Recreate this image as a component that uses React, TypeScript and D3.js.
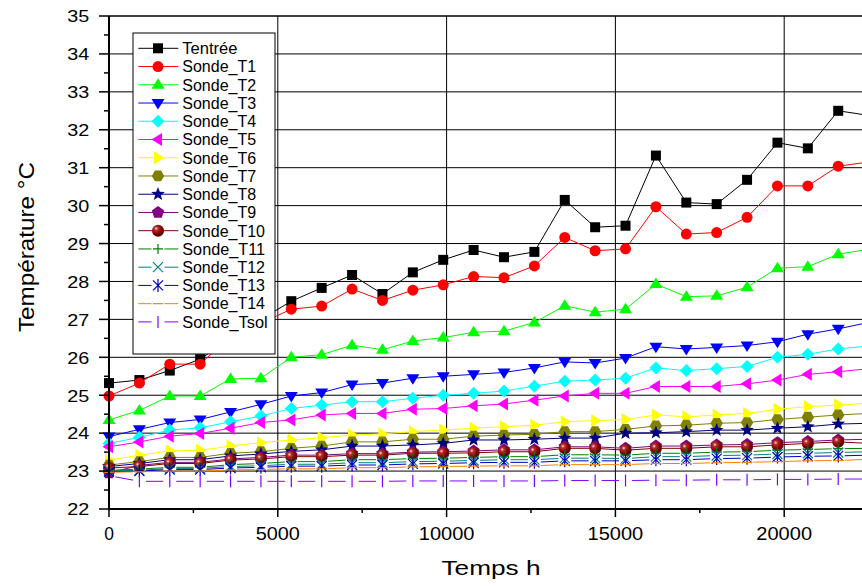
import React from 'react';
import * as d3 from 'd3';

// Time (h) of each measurement
const hours = [0, 900, 1800, 2700, 3600, 4500, 5400, 6300, 7200, 8100, 9000, 9900, 10800, 11700, 12600, 13500, 14400, 15300, 16200, 17100, 18000, 18900, 19800, 20700, 21600, 22500];

const tentree = [25.32, 25.4, 25.65, 25.95, 26.5, 27.0, 27.48, 27.83, 28.17, 27.67, 28.24, 28.57, 28.83, 28.64, 28.78, 30.15, 29.43, 29.47, 31.32, 30.08, 30.04, 30.68, 31.66, 31.51, 32.5, 32.38];
const sondeT1 = [24.98, 25.32, 25.82, 25.82, 26.55, 26.9, 27.27, 27.35, 27.8, 27.5, 27.77, 27.91, 28.13, 28.1, 28.41, 29.16, 28.81, 28.86, 29.97, 29.25, 29.29, 29.69, 30.52, 30.52, 31.04, 31.15];
const sondeT2 = [24.35, 24.6, 24.98, 24.98, 25.43, 25.45, 26.0, 26.07, 26.32, 26.2, 26.43, 26.52, 26.66, 26.69, 26.92, 27.36, 27.19, 27.27, 27.93, 27.6, 27.62, 27.85, 28.35, 28.39, 28.72, 28.85];
const sondeT3 = [23.91, 24.1, 24.28, 24.36, 24.56, 24.76, 24.98, 25.07, 25.28, 25.32, 25.45, 25.5, 25.55, 25.6, 25.72, 25.88, 25.85, 25.98, 26.28, 26.22, 26.26, 26.31, 26.41, 26.61, 26.75, 26.92];
const sondeT4 = [23.73, 23.89, 24.08, 24.14, 24.3, 24.45, 24.65, 24.74, 24.83, 24.83, 24.92, 25.0, 25.05, 25.11, 25.24, 25.37, 25.4, 25.45, 25.72, 25.65, 25.7, 25.76, 26.0, 26.08, 26.22, 26.3];
const sondeT5 = [23.64, 23.77, 23.92, 23.99, 24.13, 24.28, 24.35, 24.48, 24.52, 24.52, 24.63, 24.65, 24.72, 24.77, 24.87, 24.98, 25.05, 25.05, 25.23, 25.23, 25.23, 25.3, 25.4, 25.55, 25.62, 25.7];
const sondeT6 = [23.29, 23.42, 23.53, 23.55, 23.66, 23.75, 23.82, 23.88, 23.95, 23.98, 24.04, 24.08, 24.13, 24.17, 24.21, 24.3, 24.33, 24.36, 24.48, 24.43, 24.48, 24.52, 24.63, 24.7, 24.74, 24.79];
const sondeT7 = [23.16, 23.25, 23.36, 23.36, 23.47, 23.51, 23.6, 23.66, 23.77, 23.77, 23.84, 23.84, 23.92, 23.95, 23.97, 24.04, 24.04, 24.1, 24.19, 24.21, 24.26, 24.28, 24.36, 24.42, 24.48, 24.52];
const sondeT8 = [23.12, 23.2, 23.3, 23.3, 23.4, 23.45, 23.52, 23.56, 23.66, 23.66, 23.69, 23.73, 23.82, 23.82, 23.84, 23.87, 23.87, 24.0, 24.01, 24.04, 24.08, 24.08, 24.13, 24.17, 24.24, 24.26];
const sondeT9 = [22.95, 23.15, 23.23, 23.23, 23.32, 23.36, 23.42, 23.42, 23.46, 23.46, 23.5, 23.51, 23.53, 23.56, 23.56, 23.64, 23.64, 23.6, 23.66, 23.66, 23.69, 23.7, 23.75, 23.78, 23.82, 23.84];
const sondeT10 = [23.08, 23.12, 23.2, 23.2, 23.29, 23.32, 23.38, 23.38, 23.42, 23.42, 23.47, 23.47, 23.48, 23.51, 23.51, 23.6, 23.6, 23.55, 23.6, 23.6, 23.64, 23.64, 23.69, 23.73, 23.77, 23.73];
const sondeT11 = [23.02, 23.05, 23.1, 23.1, 23.17, 23.2, 23.25, 23.25, 23.3, 23.3, 23.33, 23.34, 23.36, 23.38, 23.38, 23.43, 23.43, 23.42, 23.47, 23.47, 23.5, 23.51, 23.55, 23.57, 23.59, 23.6];
const sondeT12 = [23.0, 23.02, 23.07, 23.07, 23.12, 23.14, 23.18, 23.18, 23.22, 23.22, 23.25, 23.26, 23.28, 23.3, 23.3, 23.34, 23.34, 23.33, 23.38, 23.38, 23.41, 23.42, 23.45, 23.47, 23.49, 23.51];
const sondeT13 = [22.98, 23.0, 23.04, 23.04, 23.08, 23.1, 23.13, 23.13, 23.16, 23.16, 23.19, 23.2, 23.22, 23.23, 23.23, 23.27, 23.27, 23.27, 23.3, 23.3, 23.33, 23.34, 23.37, 23.39, 23.4, 23.42];
const sondeT14 = [22.97, 22.98, 23.0, 23.0, 23.03, 23.04, 23.06, 23.06, 23.09, 23.09, 23.11, 23.12, 23.13, 23.14, 23.14, 23.17, 23.17, 23.17, 23.2, 23.2, 23.22, 23.23, 23.25, 23.27, 23.28, 23.31];
const sondeTsol = [22.88, 22.73, 22.73, 22.73, 22.73, 22.73, 22.73, 22.73, 22.73, 22.73, 22.74, 22.74, 22.74, 22.74, 22.74, 22.75, 22.75, 22.75, 22.76, 22.76, 22.77, 22.77, 22.78, 22.78, 22.79, 22.79];

const seriesNames = ['Tentrée', 'Sonde_T1', 'Sonde_T2', 'Sonde_T3', 'Sonde_T4', 'Sonde_T5', 'Sonde_T6', 'Sonde_T7', 'Sonde_T8', 'Sonde_T9', 'Sonde_T10', 'Sonde_T11', 'Sonde_T12', 'Sonde_T13', 'Sonde_T14', 'Sonde_Tsol'];
const seriesValues = [tentree, sondeT1, sondeT2, sondeT3, sondeT4, sondeT5, sondeT6, sondeT7, sondeT8, sondeT9, sondeT10, sondeT11, sondeT12, sondeT13, sondeT14, sondeTsol];
const seriesColors = ['#000000', '#ff0000', '#00ff00', '#0000ff', '#00ffff', '#ff00ff', '#ffff00', '#808000', '#000080', '#800080', '#800000', '#008000', '#008080', '#0000c0', '#ff8000', '#8000ff'];
const seriesMarkers = ['square', 'circle', 'triUp', 'triDown', 'diamond', 'triLeft', 'triRight', 'hexagon', 'star', 'pentagon', 'sphere', 'plus', 'cross', 'asterisk', 'dash', 'bar'];

const yTicks = [22, 23, 24, 25, 26, 27, 28, 29, 30, 31, 32, 33, 34, 35];
const xTicks = [0, 5000, 10000, 15000, 20000];
const yTitle = 'Température °C';
const xTitle = 'Temps h';

const W = 862;
const H = 586;
const x = d3.scaleLinear().domain([0, 25000]).range([109, 109 + 168.8 * 5]);
const y = d3.scaleLinear().domain([22, 35]).range([509, 16]);

const FONT = "Arial, 'Liberation Sans', Helvetica, sans-serif";
// Arial advance widths (per 1000 em) used to size text consistently
const adv: Record<string, number> = { S: 667, o: 556, n: 556, d: 556, e: 556, _: 556, T: 611, s: 500, l: 222, r: 333, t: 278, 'é': 556 };
function textWidth(s: string, size: number) {
  let w = 0;
  for (const ch of s) w += adv[ch] !== undefined ? adv[ch] : 556;
  return (w * size) / 1000;
}

const strokeMarkers = new Set(['plus', 'cross', 'asterisk', 'dash', 'bar']);

function polygon(n: number, r: number, rot: number) {
  const pts = d3.range(n).map((i) => {
    const a = rot + (i * 2 * Math.PI) / n;
    return [r * Math.cos(a), r * Math.sin(a)];
  });
  return 'M' + pts.map((p) => p[0].toFixed(2) + ',' + p[1].toFixed(2)).join('L') + 'Z';
}

function starPath(ro: number, ri: number) {
  const pts = d3.range(10).map((i) => {
    const r = i % 2 === 0 ? ro : ri;
    const a = -Math.PI / 2 + (i * Math.PI) / 5;
    return [r * Math.cos(a), r * Math.sin(a)];
  });
  return 'M' + pts.map((p) => p[0].toFixed(2) + ',' + p[1].toFixed(2)).join('L') + 'Z';
}

const markerPaths: Record<string, string> = {
  square: 'M-5,-5H5V5H-5Z',
  triUp: 'M0,-6.5L6.5,4L-6.5,4Z',
  triDown: 'M0,6.5L6.5,-4L-6.5,-4Z',
  triLeft: 'M-6.5,0L4,-6.5L4,6.5Z',
  triRight: 'M6.5,0L-4,-6.5L-4,6.5Z',
  diamond: 'M0,-6.5L6.5,0L0,6.5L-6.5,0Z',
  hexagon: polygon(6, 6.2, 0),
  pentagon: polygon(5, 6.5, -Math.PI / 2),
  star: starPath(7.2, 3),
  plus: 'M-5,0H5M0,-5V5',
  cross: 'M-5,-5L5,5M-5,5L5,-5',
  asterisk: 'M-5,-5L5,5M-5,5L5,-5M0,-6.5V6.5',
  dash: 'M-5,0H5',
  bar: 'M0,-6V6',
};

function Marker({ kind, color, cx, cy }: { kind: string; color: string; cx: number; cy: number }) {
  if (kind === 'circle') return <circle cx={cx} cy={cy} r={5.5} fill={color} />;
  if (kind === 'sphere') return <circle cx={cx} cy={cy} r={6} fill="url(#sphereGrad)" />;
  const d = markerPaths[kind];
  if (strokeMarkers.has(kind)) {
    return <path d={d} transform={`translate(${cx},${cy})`} fill="none" stroke={color} strokeWidth={1.2} />;
  }
  return <path d={d} transform={`translate(${cx},${cy})`} fill={color} />;
}

function segments(pts: [number, number][], gap: number) {
  const out: string[] = [];
  for (let i = 0; i < pts.length - 1; i++) {
    const [x0, y0] = pts[i];
    const [x1, y1] = pts[i + 1];
    const dx = x1 - x0;
    const dy = y1 - y0;
    const len = Math.hypot(dx, dy);
    if (len <= 2 * gap) continue;
    const ux = dx / len;
    const uy = dy / len;
    out.push(`M${(x0 + ux * gap).toFixed(2)},${(y0 + uy * gap).toFixed(2)}L${(x1 - ux * gap).toFixed(2)},${(y1 - uy * gap).toFixed(2)}`);
  }
  return out.join('');
}

export default function App() {
  const minorY = d3.range(22.5, 35, 1);
  const minorX = [2500, 7500, 12500, 17500, 22500];
  const legendX = 133;
  const legendTop = 33;
  const legendBottom = 354;
  const legendRight = 275;
  const rowY0 = 48.3;
  const rowStep = 18.24;

  return (
    <svg width={W} height={H} style={{ position: 'absolute', left: 0, top: 0, background: '#fff' }} fontFamily={FONT}>
      <defs>
        <radialGradient id="sphereGrad" cx="35%" cy="32%" r="70%">
          <stop offset="0%" stopColor="#ffe0e0" />
          <stop offset="22%" stopColor="#b83030" />
          <stop offset="65%" stopColor="#800000" />
          <stop offset="100%" stopColor="#4a0000" />
        </radialGradient>
        <clipPath id="plotClip">
          <rect x={0} y={0} width={W} height={520} />
        </clipPath>
      </defs>
      <rect x={0} y={0} width={W} height={H} fill="#fff" />

      {/* grid */}
      {yTicks.filter((t) => t > 22 && t < 35).map((t) => (
        <line key={'gy' + t} x1={x(0)} x2={W} y1={y(t)} y2={y(t)} stroke="#000" strokeWidth={1} />
      ))}
      {xTicks.filter((t) => t > 0).map((t) => (
        <line key={'gx' + t} x1={x(t)} x2={x(t)} y1={y(35)} y2={y(22)} stroke="#000" strokeWidth={1} />
      ))}

      {/* series */}
      <g clipPath="url(#plotClip)">
        {seriesValues.map((vals, si) => {
          const pts = vals.map((v, i) => [x(hours[i]), y(v)] as [number, number]);
          const gap = strokeMarkers.has(seriesMarkers[si]) ? 6.5 : 0;
          return (
            <g key={'s' + si}>
              <path d={segments(pts, gap)} fill="none" stroke={seriesColors[si]} strokeWidth={1} />
              {pts.map((p, i) => (
                <Marker key={i} kind={seriesMarkers[si]} color={seriesColors[si]} cx={p[0]} cy={p[1]} />
              ))}
            </g>
          );
        })}
      </g>

      {/* axes */}
      <line x1={x(0)} x2={W} y1={y(35)} y2={y(35)} stroke="#000" strokeWidth={1.5} />
      <line x1={x(0)} x2={x(0)} y1={y(35)} y2={y(22) + 1} stroke="#000" strokeWidth={2} />
      <line x1={x(0) - 1} x2={W} y1={y(22)} y2={y(22)} stroke="#000" strokeWidth={2} />
      {yTicks.map((t) => (
        <line key={'ty' + t} x1={x(0) - 10} x2={x(0)} y1={y(t)} y2={y(t)} stroke="#000" strokeWidth={1.5} />
      ))}
      {minorY.map((t) => (
        <line key={'my' + t} x1={x(0) - 5} x2={x(0)} y1={y(t)} y2={y(t)} stroke="#000" strokeWidth={1.5} />
      ))}
      {xTicks.map((t) => (
        <line key={'tx' + t} x1={x(t)} x2={x(t)} y1={y(22)} y2={y(22) + 8} stroke="#000" strokeWidth={1.5} />
      ))}
      {minorX.map((t) => (
        <line key={'mx' + t} x1={x(t)} x2={x(t)} y1={y(22)} y2={y(22) + 4} stroke="#000" strokeWidth={1.5} />
      ))}

      {/* tick labels */}
      {yTicks.map((t) => (
        <text key={'ly' + t} x={89.3} y={y(t) + 6.3} fontSize={16.5} textAnchor="end" textLength={22} lengthAdjust="spacingAndGlyphs" fill="#000">
          {String(t)}
        </text>
      ))}
      {xTicks.map((t) => {
        const s = String(t);
        const tl = 11.5 * s.length - 1.8;
        return (
          <text key={'lx' + t} x={x(t) - tl / 2} y={540} fontSize={18.5} textLength={tl} lengthAdjust="spacingAndGlyphs" fill="#000">
            {s}
          </text>
        );
      })}

      {/* titles */}
      <text transform={`translate(34,${247 + 85}) rotate(-90)`} fontSize={22} textLength={170} lengthAdjust="spacingAndGlyphs" fill="#000">
        {yTitle}
      </text>
      <text x={491 - 49.5} y={575} fontSize={21} textLength={99} lengthAdjust="spacingAndGlyphs" fill="#000">
        {xTitle}
      </text>

      {/* legend */}
      <rect x={legendX} y={legendTop} width={legendRight - legendX} height={legendBottom - legendTop} fill="#fff" stroke="#000" strokeWidth={1} />
      {seriesNames.map((name, i) => {
        const cy = rowY0 + i * rowStep;
        const kind = seriesMarkers[i];
        const gap = strokeMarkers.has(kind) ? 6.5 : 0;
        return (
          <g key={'lg' + i}>
            {gap > 0 ? (
              <path d={`M138.3,${cy}H${158 - gap}M${158 + gap},${cy}H178.3`} stroke={seriesColors[i]} strokeWidth={1} fill="none" />
            ) : (
              <line x1={138.3} x2={178.3} y1={cy} y2={cy} stroke={seriesColors[i]} strokeWidth={1} />
            )}
            <Marker kind={kind} color={seriesColors[i]} cx={158} cy={cy} />
            <text x={182.3} y={cy + 5.8} fontSize={16} textLength={textWidth(name, 16)} lengthAdjust="spacingAndGlyphs" fill="#000">
              {name}
            </text>
          </g>
        );
      })}
    </svg>
  );
}
